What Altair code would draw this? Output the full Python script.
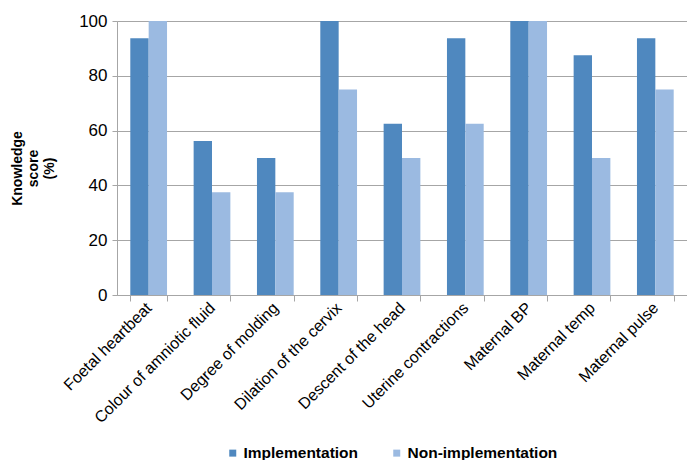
import altair as alt
import pandas as pd

categories = ["Foetal heartbeat", "Colour of amniotic fluid", "Degree of molding",
              "Dilation of the cervix", "Descent of the head", "Uterine contractions",
              "Maternal BP", "Maternal temp", "Maternal pulse"]
series = ["Implementation", "Non-implementation"]
implementation = [93.75, 56.25, 50, 100, 62.5, 93.75, 100, 87.5, 93.75]
non_implementation = [100, 37.5, 37.5, 75, 50, 62.5, 100, 50, 75]
y_ticks = [0, 20, 40, 60, 80, 100]

rows = []
for c, a, b in zip(categories, implementation, non_implementation):
    rows.append({"category": c, "series": series[0], "value": a})
    rows.append({"category": c, "series": series[1], "value": b})
df = pd.DataFrame(rows)

FONT = "Liberation Sans"

chart = alt.Chart(df).mark_bar().encode(
    x=alt.X("category:N", sort=categories,
            scale=alt.Scale(paddingInner=0.42, paddingOuter=0.21),
            axis=alt.Axis(title=None, labelAngle=-45, labelAlign="right",
                          labelBaseline="middle", labelFontSize=16, labelFont=FONT,
                          labelColor="#000000", labelPadding=4, tickSize=6,
                          tickBand="extent", tickColor="#a6a6a6",
                          domainColor="#a6a6a6", labelLimit=300)),
    xOffset=alt.XOffset("series:N", sort=series, scale=alt.Scale(paddingInner=0, paddingOuter=0)),
    y=alt.Y("value:Q", scale=alt.Scale(domain=[0, 100], nice=False),
            axis=alt.Axis(values=y_ticks, title=["Knowledge", "score", "(%)"],
                          titleFont=FONT, titleFontSize=14, titleFontWeight="bold",
                          titleColor="#000000", titleAngle=-90, titleBaseline="top",
                          titleAlign="center", titleX=-107, titleY=147, titleLineHeight=16,
                          labelFont=FONT, labelFontSize=17, labelColor="#000000",
                          labelPadding=5, tickSize=5, tickColor="#a6a6a6",
                          domainColor="#a6a6a6", gridColor="#a6a6a6", grid=True)),
    color=alt.Color("series:N", sort=series,
                    scale=alt.Scale(domain=series, range=["#4F88BF", "#9BBAE1"]),
                    legend=alt.Legend(title=None, orient="none", legendX=108, legendY=424,
                                      direction="horizontal", symbolType="square",
                                      symbolSize=49, symbolStrokeWidth=0,
                                      labelFont=FONT, labelFontSize=15.5,
                                      labelFontWeight="bold", labelColor="#000000",
                                      columnPadding=30, labelOffset=3)),
).properties(
    width=570, height=274,
    autosize=alt.AutoSizeParams(type="none"),
    padding={"left": 117, "top": 21, "right": 0, "bottom": 165},
).configure_view(stroke=None).configure(background="#ffffff")

chart.save("out.html", embed_options={"renderer": "svg", "actions": False})
